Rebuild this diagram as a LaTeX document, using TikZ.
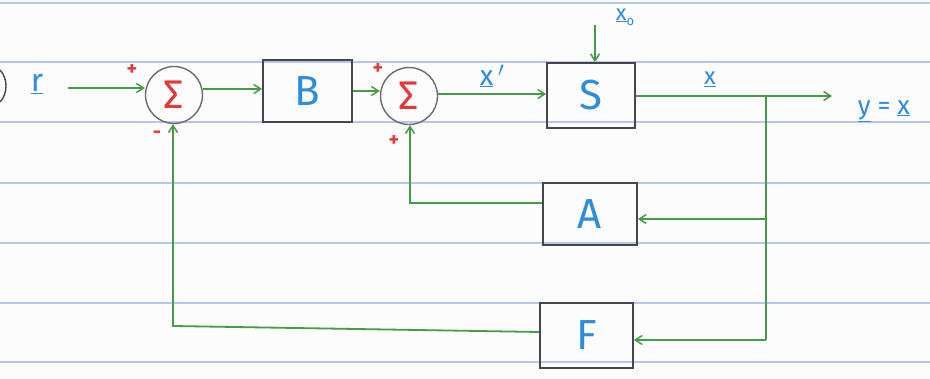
\documentclass[tikz,border=0pt]{standalone}
\usepackage{fontspec}
\setmainfont{Fira Sans}
\usetikzlibrary{arrows.meta}
\definecolor{wire}{RGB}{70,155,70}
\definecolor{ink}{RGB}{45,140,220}
\definecolor{redink}{RGB}{230,55,55}
\definecolor{boxline}{RGB}{70,70,75}
\definecolor{rule}{RGB}{185,198,235}
\definecolor{paper}{RGB}{252,252,253}
\tikzset{
  blk/.style={draw=boxline, line width=1.8pt, minimum width=89pt, minimum height=62pt, inner sep=0pt, text=ink, font=\fontsize{42}{42}\selectfont},
  summer/.style={draw=boxline!80, line width=1.4pt, circle, minimum size=57pt, inner sep=0pt, text=redink, font=\fontsize{40}{40}\selectfont},
  sig/.style={draw=wire, line width=1.8pt},
  arr/.style={sig, -{Straight Barb[length=7pt,width=9pt,line width=1.5pt]}},
  lbl/.style={text=ink, inner sep=1pt},
  sgn/.style={text=redink, font=\fontsize{20}{20}\selectfont\bfseries, inner sep=0pt}
}
\begin{document}
\begin{tikzpicture}[x=1pt,y=-1pt]
\useasboundingbox (0,0) rectangle (930,379);
\fill[paper] (0,0) rectangle (930,379);
% ruled paper lines
\foreach \yy in {3,62,122,183,243,303,362}
  \draw[rule, line width=1.3pt] (0,\yy) -- (930,\yy);
% partial bracket at left edge
\draw[boxline, line width=1.4pt] (0,70) .. controls (8,78) and (8,94) .. (0,102);

% blocks
\node[summer] (s1) at (174,95) {Σ};
\node[blk] (B) at (307.5,91) {B};
\node[summer] (s2) at (409,96) {Σ};
\node[blk, minimum width=88pt, minimum height=65pt] (S) at (591,95.5) {S};
\node[blk, minimum width=94pt] (A) at (590,214) {A};
\node[blk, minimum width=93pt, minimum height=65pt] (F) at (586.5,335.5) {F};

% coordinates
\coordinate (rin) at (68,88);
\coordinate (x0in) at (595,25);
\coordinate (br) at (766,96);
\coordinate (yout) at (832,96);
\coordinate (abr) at (766,219);
\coordinate (fbr) at (766,340);
\coordinate (acorner) at (410,203);
\coordinate (fcorner) at (173,326);

% labels
\node[lbl, font=\fontsize{32}{32}\selectfont] (rlab) at (37,84) {\underline{r}};
\node[lbl, font=\fontsize{28}{28}\selectfont] (xplab) at (492,76) {\underline{x}\,$'$};
\node[lbl, font=\fontsize{22}{22}\selectfont] (x0lab) at (625,17) {\underline{x}\raisebox{-5pt}{\fontsize{13}{13}\selectfont o}};
\node[lbl, font=\fontsize{24}{24}\selectfont] (xlab) at (710,79) {\underline{x}};
\node[lbl, font=\fontsize{26}{26}\selectfont] (ylab) at (884,111) {\underline{y} = \underline{x}};
\node[sgn] (p1) at (132,70) {+};
\node[sgn] (m1) at (157,135) {-};
\node[sgn] (p2) at (378,69) {+};
\node[sgn] (p3) at (394,141) {+};

% connectors
\draw[arr] (rin) -- (s1.west |- rin);
\draw[arr] (s1.east |- 0,89) -- (B.west |- 0,89);
\draw[arr] (B.east |- 0,91) -- (s2.west |- 0,91);
\draw[arr] (s2.east |- 0,94) -- (S.west |- 0,94);
\draw[arr] (x0in) -- (S.north -| x0in);
\draw[sig] (S.east |- br) -- (br);
\draw[arr] (br) -- (yout);
\draw[sig] (br) -- (fbr);
\draw[arr] (abr) -- (A.east |- abr);
\draw[arr] (fbr) -- (F.east |- fbr);
\draw[arr] (A.west |- acorner) -- (acorner) -- (s2.south -| acorner);
\draw[arr] (F.west |- 0,332) -- (fcorner) -- (s1.south -| fcorner);
\end{tikzpicture}
\end{document}
